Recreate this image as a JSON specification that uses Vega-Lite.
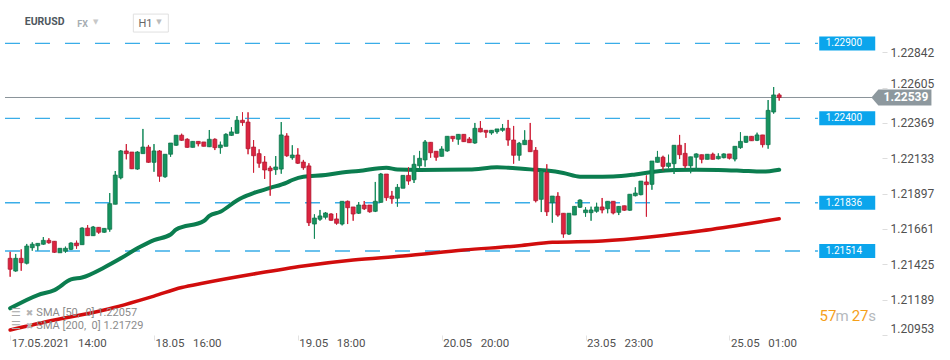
{
  "$schema": "https://vega.github.io/schema/vega-lite/v6.json",
  "width": 882,
  "height": 335,
  "autosize": {"type": "none"},
  "padding": {"left": 0, "top": 0, "right": 68, "bottom": 25},
  "background": "white",
  "config": {"font": "Roboto", "view": {"stroke": null}},
  "datasets": {
    "candles": [
      {"i":0,"o":1.21465,"h":1.21509,"l":1.21342,"c":1.21392},
      {"i":1,"o":1.21380,"h":1.21494,"l":1.21376,"c":1.21465},
      {"i":2,"o":1.21465,"h":1.21525,"l":1.21382,"c":1.21436},
      {"i":3,"o":1.21432,"h":1.21561,"l":1.21425,"c":1.21547},
      {"i":4,"o":1.21536,"h":1.21572,"l":1.21516,"c":1.21559},
      {"i":5,"o":1.21549,"h":1.21565,"l":1.21516,"c":1.21565},
      {"i":6,"o":1.21559,"h":1.21607,"l":1.21556,"c":1.21585},
      {"i":7,"o":1.21585,"h":1.21599,"l":1.21563,"c":1.21569},
      {"i":8,"o":1.21579,"h":1.21579,"l":1.21502,"c":1.21505},
      {"i":9,"o":1.21502,"h":1.21532,"l":1.21502,"c":1.21532},
      {"i":10,"o":1.21512,"h":1.21543,"l":1.21502,"c":1.21532},
      {"i":11,"o":1.21525,"h":1.21572,"l":1.21520,"c":1.21567},
      {"i":12,"o":1.21567,"h":1.21583,"l":1.21529,"c":1.21549},
      {"i":13,"o":1.21556,"h":1.21672,"l":1.21556,"c":1.21667},
      {"i":14,"o":1.21667,"h":1.21687,"l":1.21614,"c":1.21616},
      {"i":15,"o":1.21616,"h":1.21681,"l":1.21614,"c":1.21674},
      {"i":16,"o":1.21672,"h":1.21672,"l":1.21629,"c":1.21639},
      {"i":17,"o":1.21639,"h":1.21665,"l":1.21636,"c":1.21665},
      {"i":18,"o":1.21659,"h":1.21901,"l":1.21643,"c":1.21830},
      {"i":19,"o":1.21826,"h":1.22048,"l":1.21826,"c":1.22021},
      {"i":20,"o":1.22003,"h":1.22188,"l":1.21993,"c":1.22182},
      {"i":21,"o":1.22182,"h":1.22228,"l":1.22126,"c":1.22164},
      {"i":22,"o":1.22175,"h":1.22175,"l":1.22061,"c":1.22063},
      {"i":23,"o":1.22061,"h":1.22180,"l":1.22057,"c":1.22175},
      {"i":24,"o":1.22164,"h":1.22329,"l":1.22164,"c":1.22208},
      {"i":25,"o":1.22208,"h":1.22222,"l":1.22104,"c":1.22106},
      {"i":26,"o":1.22106,"h":1.22228,"l":1.22043,"c":1.22182},
      {"i":27,"o":1.22182,"h":1.22188,"l":1.21977,"c":1.22013},
      {"i":28,"o":1.22010,"h":1.22160,"l":1.22003,"c":1.22160},
      {"i":29,"o":1.22160,"h":1.22235,"l":1.22143,"c":1.22235},
      {"i":30,"o":1.22220,"h":1.22287,"l":1.22217,"c":1.22287},
      {"i":31,"o":1.22287,"h":1.22297,"l":1.22250,"c":1.22253},
      {"i":32,"o":1.22260,"h":1.22266,"l":1.22204,"c":1.22206},
      {"i":33,"o":1.22206,"h":1.22246,"l":1.22206,"c":1.22246},
      {"i":34,"o":1.22246,"h":1.22246,"l":1.22213,"c":1.22230},
      {"i":35,"o":1.22242,"h":1.22242,"l":1.22213,"c":1.22213},
      {"i":36,"o":1.22210,"h":1.22322,"l":1.22208,"c":1.22260},
      {"i":37,"o":1.22260,"h":1.22266,"l":1.22188,"c":1.22204},
      {"i":38,"o":1.22204,"h":1.22244,"l":1.22164,"c":1.22222},
      {"i":39,"o":1.22213,"h":1.22300,"l":1.22213,"c":1.22293},
      {"i":40,"o":1.22286,"h":1.22340,"l":1.22284,"c":1.22309},
      {"i":41,"o":1.22300,"h":1.22415,"l":1.22298,"c":1.22387},
      {"i":42,"o":1.22387,"h":1.22440,"l":1.22351,"c":1.22371},
      {"i":43,"o":1.22375,"h":1.22440,"l":1.22160,"c":1.22197},
      {"i":44,"o":1.22208,"h":1.22255,"l":1.22037,"c":1.22150},
      {"i":45,"o":1.22164,"h":1.22193,"l":1.22070,"c":1.22100},
      {"i":46,"o":1.22108,"h":1.22148,"l":1.21995,"c":1.22055},
      {"i":47,"o":1.22068,"h":1.22082,"l":1.21883,"c":1.22050},
      {"i":48,"o":1.22057,"h":1.22148,"l":1.22023,"c":1.22075},
      {"i":49,"o":1.22061,"h":1.22375,"l":1.22030,"c":1.22289},
      {"i":50,"o":1.22282,"h":1.22300,"l":1.22143,"c":1.22150},
      {"i":51,"o":1.22137,"h":1.22220,"l":1.22124,"c":1.22155},
      {"i":52,"o":1.22155,"h":1.22200,"l":1.22095,"c":1.22100},
      {"i":53,"o":1.22108,"h":1.22122,"l":1.22057,"c":1.22070},
      {"i":54,"o":1.22082,"h":1.22100,"l":1.21681,"c":1.21703},
      {"i":55,"o":1.21694,"h":1.21759,"l":1.21596,"c":1.21734},
      {"i":56,"o":1.21726,"h":1.21788,"l":1.21716,"c":1.21748},
      {"i":57,"o":1.21739,"h":1.21774,"l":1.21726,"c":1.21768},
      {"i":58,"o":1.21761,"h":1.21766,"l":1.21716,"c":1.21719},
      {"i":59,"o":1.21728,"h":1.21766,"l":1.21690,"c":1.21699},
      {"i":60,"o":1.21694,"h":1.21846,"l":1.21685,"c":1.21846},
      {"i":61,"o":1.21846,"h":1.21850,"l":1.21694,"c":1.21803},
      {"i":62,"o":1.21808,"h":1.21808,"l":1.21716,"c":1.21761},
      {"i":63,"o":1.21766,"h":1.21841,"l":1.21761,"c":1.21821},
      {"i":64,"o":1.21821,"h":1.21848,"l":1.21788,"c":1.21796},
      {"i":65,"o":1.21821,"h":1.21821,"l":1.21770,"c":1.21776},
      {"i":66,"o":1.21779,"h":1.21975,"l":1.21774,"c":1.21846},
      {"i":67,"o":1.21839,"h":1.22035,"l":1.21836,"c":1.22028},
      {"i":68,"o":1.22028,"h":1.22028,"l":1.21850,"c":1.21870},
      {"i":69,"o":1.21881,"h":1.21915,"l":1.21830,"c":1.21863},
      {"i":70,"o":1.21866,"h":1.21961,"l":1.21810,"c":1.21939},
      {"i":71,"o":1.21933,"h":1.22019,"l":1.21933,"c":1.22019},
      {"i":72,"o":1.22019,"h":1.22073,"l":1.21957,"c":1.21981},
      {"i":73,"o":1.21990,"h":1.22153,"l":1.21968,"c":1.22093},
      {"i":74,"o":1.22083,"h":1.22182,"l":1.22068,"c":1.22133},
      {"i":75,"o":1.22122,"h":1.22255,"l":1.22077,"c":1.22242},
      {"i":76,"o":1.22240,"h":1.22240,"l":1.22137,"c":1.22170},
      {"i":77,"o":1.22180,"h":1.22180,"l":1.22117,"c":1.22140},
      {"i":78,"o":1.22146,"h":1.22213,"l":1.22146,"c":1.22195},
      {"i":79,"o":1.22182,"h":1.22280,"l":1.22177,"c":1.22280},
      {"i":80,"o":1.22280,"h":1.22280,"l":1.22244,"c":1.22264},
      {"i":81,"o":1.22260,"h":1.22293,"l":1.22224,"c":1.22293},
      {"i":82,"o":1.22293,"h":1.22293,"l":1.22242,"c":1.22244},
      {"i":83,"o":1.22262,"h":1.22275,"l":1.22237,"c":1.22237},
      {"i":84,"o":1.22235,"h":1.22369,"l":1.22230,"c":1.22333},
      {"i":85,"o":1.22333,"h":1.22382,"l":1.22307,"c":1.22309},
      {"i":86,"o":1.22320,"h":1.22320,"l":1.22270,"c":1.22307},
      {"i":87,"o":1.22302,"h":1.22320,"l":1.22291,"c":1.22320},
      {"i":88,"o":1.22311,"h":1.22329,"l":1.22298,"c":1.22329},
      {"i":89,"o":1.22320,"h":1.22362,"l":1.22311,"c":1.22333},
      {"i":90,"o":1.22333,"h":1.22389,"l":1.22217,"c":1.22255},
      {"i":91,"o":1.22255,"h":1.22349,"l":1.22097,"c":1.22153},
      {"i":92,"o":1.22153,"h":1.22242,"l":1.22117,"c":1.22233},
      {"i":93,"o":1.22224,"h":1.22320,"l":1.22224,"c":1.22253},
      {"i":94,"o":1.22253,"h":1.22369,"l":1.22177,"c":1.22177},
      {"i":95,"o":1.22186,"h":1.22208,"l":1.21839,"c":1.21850},
      {"i":96,"o":1.21859,"h":1.22050,"l":1.21774,"c":1.22050},
      {"i":97,"o":1.22039,"h":1.22093,"l":1.21748,"c":1.21776},
      {"i":98,"o":1.21836,"h":1.21881,"l":1.21703,"c":1.21881},
      {"i":99,"o":1.21879,"h":1.21906,"l":1.21743,"c":1.21754},
      {"i":100,"o":1.21766,"h":1.21766,"l":1.21603,"c":1.21627},
      {"i":101,"o":1.21627,"h":1.21766,"l":1.21621,"c":1.21766},
      {"i":102,"o":1.21754,"h":1.21812,"l":1.21754,"c":1.21812},
      {"i":103,"o":1.21806,"h":1.21859,"l":1.21801,"c":1.21854},
      {"i":104,"o":1.21770,"h":1.21806,"l":1.21743,"c":1.21788},
      {"i":105,"o":1.21770,"h":1.21810,"l":1.21716,"c":1.21788},
      {"i":106,"o":1.21779,"h":1.21836,"l":1.21770,"c":1.21808},
      {"i":107,"o":1.21808,"h":1.21868,"l":1.21766,"c":1.21788},
      {"i":108,"o":1.21796,"h":1.21846,"l":1.21766,"c":1.21846},
      {"i":109,"o":1.21846,"h":1.21846,"l":1.21759,"c":1.21768},
      {"i":110,"o":1.21772,"h":1.21812,"l":1.21754,"c":1.21812},
      {"i":111,"o":1.21816,"h":1.21816,"l":1.21783,"c":1.21786},
      {"i":112,"o":1.21786,"h":1.21893,"l":1.21783,"c":1.21893},
      {"i":113,"o":1.21883,"h":1.21939,"l":1.21879,"c":1.21901},
      {"i":114,"o":1.21890,"h":1.21981,"l":1.21886,"c":1.21981},
      {"i":115,"o":1.21975,"h":1.22019,"l":1.21743,"c":1.21957},
      {"i":116,"o":1.21959,"h":1.22115,"l":1.21923,"c":1.22115},
      {"i":117,"o":1.22106,"h":1.22182,"l":1.22106,"c":1.22140},
      {"i":118,"o":1.22140,"h":1.22150,"l":1.22050,"c":1.22079},
      {"i":119,"o":1.22079,"h":1.22157,"l":1.22066,"c":1.22101},
      {"i":120,"o":1.22097,"h":1.22220,"l":1.22028,"c":1.22220},
      {"i":121,"o":1.22220,"h":1.22289,"l":1.22128,"c":1.22157},
      {"i":122,"o":1.22166,"h":1.22235,"l":1.22068,"c":1.22083},
      {"i":123,"o":1.22083,"h":1.22143,"l":1.22033,"c":1.22143},
      {"i":124,"o":1.22140,"h":1.22166,"l":1.22059,"c":1.22162},
      {"i":125,"o":1.22157,"h":1.22157,"l":1.22100,"c":1.22126},
      {"i":126,"o":1.22126,"h":1.22160,"l":1.22126,"c":1.22160},
      {"i":127,"o":1.22160,"h":1.22170,"l":1.22126,"c":1.22126},
      {"i":128,"o":1.22130,"h":1.22166,"l":1.22126,"c":1.22146},
      {"i":129,"o":1.22137,"h":1.22166,"l":1.22133,"c":1.22162},
      {"i":130,"o":1.22162,"h":1.22162,"l":1.22126,"c":1.22133},
      {"i":131,"o":1.22128,"h":1.22213,"l":1.22113,"c":1.22213},
      {"i":132,"o":1.22204,"h":1.22307,"l":1.22197,"c":1.22246},
      {"i":133,"o":1.22240,"h":1.22280,"l":1.22235,"c":1.22280},
      {"i":134,"o":1.22280,"h":1.22280,"l":1.22250,"c":1.22250},
      {"i":135,"o":1.22253,"h":1.22304,"l":1.22248,"c":1.22289},
      {"i":136,"o":1.22289,"h":1.22289,"l":1.22206,"c":1.22224},
      {"i":137,"o":1.22224,"h":1.22522,"l":1.22197,"c":1.22453},
      {"i":138,"o":1.22442,"h":1.22609,"l":1.22431,"c":1.22556},
      {"i":139,"o":1.22556,"h":1.22567,"l":1.22518,"c":1.22539}
    ],
    "sma50": [
      {"i":0,"v":1.21131},{"i":5,"v":1.21220},{"i":8,"v":1.21253},{"i":11,"v":1.21324},
      {"i":13,"v":1.21337},{"i":17,"v":1.21404},{"i":20,"v":1.21465},{"i":23,"v":1.21532},
      {"i":26,"v":1.21587},{"i":29,"v":1.21624},{"i":30,"v":1.21657},{"i":35,"v":1.21714},
      {"i":36,"v":1.21748},{"i":38,"v":1.21776},{"i":41,"v":1.21851},{"i":42,"v":1.21871},
      {"i":44,"v":1.21901},{"i":47,"v":1.21935},{"i":50,"v":1.21971},{"i":51,"v":1.21988},
      {"i":53,"v":1.22010},{"i":57,"v":1.22021},{"i":60,"v":1.22038},{"i":63,"v":1.22048},
      {"i":68,"v":1.22070},{"i":70,"v":1.22058},{"i":74,"v":1.22055},{"i":83,"v":1.22058},
      {"i":88,"v":1.22073},{"i":90,"v":1.22070},{"i":92,"v":1.22065},{"i":94,"v":1.22059},
      {"i":97,"v":1.22051},{"i":100,"v":1.22035},{"i":103,"v":1.22010},{"i":106,"v":1.22010},
      {"i":109,"v":1.22011},{"i":113,"v":1.22025},{"i":116,"v":1.22041},{"i":120,"v":1.22055},
      {"i":124,"v":1.22057},{"i":128,"v":1.22055},{"i":132,"v":1.22050},{"i":136,"v":1.22044},
      {"i":139,"v":1.22057}
    ],
    "sma200": [
      {"i":0,"v":1.20986},{"i":8,"v":1.21053},{"i":17,"v":1.21120},{"i":26,"v":1.21213},
      {"i":31,"v":1.21270},{"i":35,"v":1.21300},{"i":44,"v":1.21360},{"i":53,"v":1.21414},
      {"i":62,"v":1.21454},{"i":71,"v":1.21480},{"i":82,"v":1.21520},{"i":92,"v":1.21549},
      {"i":98,"v":1.21572},{"i":107,"v":1.21581},{"i":116,"v":1.21609},{"i":125,"v":1.21649},
      {"i":134,"v":1.21699},{"i":139,"v":1.21729}
    ],
    "levels": [{"v":1.22900},{"v":1.22400},{"v":1.21836},{"v":1.21514}],
    "price": [{"v":1.22539}]
  },
  "layer": [
    {
      "data": {"name": "candles"},
      "mark": {"type": "rule", "strokeWidth": 1},
      "encoding": {
        "x": {
          "field": "i", "type": "quantitative",
          "scale": {"domain": [-0.929, 156.68], "nice": false, "zero": false},
          "axis": {
            "title": null, "values": [0, 26, 52, 78, 104, 130],
            "labelExpr": "datum.value===0?'17.05.2021\u00a0\u00a0\u00a014:00':datum.value===26?'18.05\u00a0\u00a0\u00a016:00':datum.value===52?'19.05\u00a0\u00a0\u00a018:00':datum.value===78?'20.05\u00a0\u00a0\u00a020:00':datum.value===104?'23.05\u00a0\u00a0\u00a023:00':'25.05\u00a0\u00a0\u00a001:00'",
            "grid": false, "domain": false, "ticks": true, "tickColor": "#e3e3e3", "tickSize": 5,
            "labelAlign": "left", "labelPadding": -3, "labelOffset": 1, "labelFontSize": 11.5,
            "labelColor": "#505050", "labelFlush": false, "labelOverlap": false, "labelBound": false,
            "zindex": 1
          }
        },
        "y": {
          "field": "l", "type": "quantitative",
          "scale": {"domain": [1.20953, 1.2319], "nice": false, "zero": false},
          "axis": {
            "orient": "right", "title": null,
            "values": [1.20953, 1.21189, 1.21425, 1.21661, 1.21897, 1.22133, 1.22369, 1.22605, 1.22842],
            "format": ".5f", "grid": false, "domain": false, "tickColor": "#dddddd", "tickSize": 5,
            "labelPadding": 3, "labelFontSize": 12, "labelColor": "#505050", "labelFlush": true,
            "labelOffset": {"condition": {"test": "abs(datum.value - 1.22605) < 0.00001", "value": -4.5}, "value": 0},
            "labelOverlap": false, "zindex": 0
          }
        },
        "y2": {"field": "h"},
        "color": {"condition": {"test": "datum.c >= datum.o", "value": "#14895a"}, "value": "#cf1f36"}
      }
    },
    {
      "data": {"name": "levels"},
      "mark": {"type": "rule", "strokeDash": [15, 15], "strokeWidth": 1.3, "color": "#3aade8"},
      "encoding": {
        "y": {"field": "v", "type": "quantitative", "title": null},
        "x": {"datum": -0.93, "type": "quantitative"},
        "x2": {"datum": 146}
      }
    },
    {
      "data": {"name": "price"},
      "mark": {"type": "rule", "strokeWidth": 1, "color": "#8a9399"},
      "encoding": {
        "y": {"field": "v", "type": "quantitative", "title": null},
        "x": {"datum": -0.93, "type": "quantitative"},
        "x2": {"datum": 155.9}
      }
    },
    {
      "data": {"name": "sma200"},
      "mark": {"type": "line", "strokeWidth": 3.5, "color": "#d10d0d", "interpolate": "monotone", "strokeCap": "round"},
      "encoding": {
        "x": {"field": "i", "type": "quantitative", "title": null},
        "y": {"field": "v", "type": "quantitative", "title": null, "scale": {"zero": false}}
      }
    },
    {
      "data": {"name": "sma50"},
      "mark": {"type": "line", "strokeWidth": 4, "color": "#0b7d4f", "interpolate": "monotone", "strokeCap": "round"},
      "encoding": {
        "x": {"field": "i", "type": "quantitative", "title": null},
        "y": {"field": "v", "type": "quantitative", "title": null, "scale": {"zero": false}}
      }
    },
    {
      "data": {"name": "candles"},
      "mark": {"type": "rule", "strokeWidth": 1},
      "encoding": {
        "x": {"field": "i", "type": "quantitative", "title": null},
        "y": {"field": "l", "type": "quantitative", "title": null},
        "y2": {"field": "h"},
        "color": {"condition": {"test": "datum.c >= datum.o", "value": "#14895a"}, "value": "#cf1f36"}
      }
    },
    {
      "data": {"name": "candles"},
      "mark": {"type": "bar", "width": 4, "strokeWidth": 0.7},
      "encoding": {
        "x": {"field": "i", "type": "quantitative", "title": null},
        "y": {"field": "o", "type": "quantitative", "title": null, "scale": {"zero": false}},
        "y2": {"field": "c"},
        "fill": {"condition": {"test": "datum.c >= datum.o", "value": "#16935f"}, "value": "#dc2440"},
        "stroke": {"condition": {"test": "datum.c >= datum.o", "value": "#0c6e46"}, "value": "#a9162c"}
      }
    },
    {
      "data": {"name": "levels"},
      "mark": {"type": "point", "shape": "M-1,-0.25L1,-0.25L1,0.25L-1,0.25Z", "size": 3136, "filled": true, "fill": "#0ba5ec", "opacity": 1, "strokeWidth": 0},
      "encoding": {
        "y": {"field": "v", "type": "quantitative", "title": null},
        "x": {"datum": 151.3, "type": "quantitative"}
      }
    },
    {
      "data": {"name": "levels"},
      "mark": {"type": "text", "align": "left", "baseline": "middle", "fontSize": 10, "color": "white"},
      "encoding": {
        "y": {"field": "v", "type": "quantitative", "title": null},
        "x": {"datum": 147.4, "type": "quantitative"},
        "text": {"field": "v", "type": "quantitative", "format": ".5f"}
      }
    },
    {
      "data": {"name": "price"},
      "mark": {"type": "point", "shape": "M-1,0L-0.77,-0.265L1,-0.265L1,0.265L-0.77,0.265Z", "size": 3600, "filled": true, "fill": "#8d989e", "opacity": 1, "strokeWidth": 0},
      "encoding": {
        "y": {"field": "v", "type": "quantitative", "title": null},
        "x": {"datum": 161.1, "type": "quantitative"}
      }
    },
    {
      "data": {"name": "price"},
      "mark": {"type": "text", "align": "center", "baseline": "middle", "fontSize": 12, "fontWeight": "bold", "color": "white"},
      "encoding": {
        "y": {"field": "v", "type": "quantitative", "title": null},
        "x": {"datum": 161.92, "type": "quantitative"},
        "text": {"field": "v", "type": "quantitative", "format": ".5f"}
      }
    },
    {
      "data": {"values": [{}]},
      "mark": {"type": "text", "text": "57", "align": "left", "baseline": "alphabetic", "fontSize": 15, "color": "#f5a01a"},
      "encoding": {"x": {"datum": 146.3, "type": "quantitative"}, "y": {"datum": 1.21048, "type": "quantitative"}}
    },
    {
      "data": {"values": [{}]},
      "mark": {"type": "text", "text": "m", "align": "left", "baseline": "alphabetic", "fontSize": 15, "color": "#b5b9bc"},
      "encoding": {"x": {"datum": 149.2, "type": "quantitative"}, "y": {"datum": 1.21048, "type": "quantitative"}}
    },
    {
      "data": {"values": [{}]},
      "mark": {"type": "text", "text": "27", "align": "left", "baseline": "alphabetic", "fontSize": 15, "color": "#f5a01a"},
      "encoding": {"x": {"datum": 152.1, "type": "quantitative"}, "y": {"datum": 1.21048, "type": "quantitative"}}
    },
    {
      "data": {"values": [{}]},
      "mark": {"type": "text", "text": "s", "align": "left", "baseline": "alphabetic", "fontSize": 15, "color": "#b5b9bc"},
      "encoding": {"x": {"datum": 155.1, "type": "quantitative"}, "y": {"datum": 1.21048, "type": "quantitative"}}
    },
    {
      "data": {"values": [{}]},
      "mark": {"type": "text", "text": "SMA [50,\u00a0 0] 1.22057", "align": "left", "baseline": "middle", "fontSize": 11, "color": "#8c8c8c"},
      "encoding": {"x": {"datum": 4.74, "type": "quantitative"}, "y": {"datum": 1.211, "type": "quantitative"}}
    },
    {
      "data": {"values": [{}]},
      "mark": {"type": "text", "text": "SMA [200,\u00a0 0] 1.21729", "align": "left", "baseline": "middle", "fontSize": 11, "color": "#8c8c8c"},
      "encoding": {"x": {"datum": 4.74, "type": "quantitative"}, "y": {"datum": 1.2101, "type": "quantitative"}}
    },
    {
      "data": {"values": [{}]},
      "mark": {"type": "text", "text": "☰", "align": "left", "baseline": "middle", "fontSize": 11, "font": "DejaVu Sans", "color": "#a9a9a9"},
      "encoding": {"x": {"datum": 0.14, "type": "quantitative"}, "y": {"datum": 1.211, "type": "quantitative"}}
    },
    {
      "data": {"values": [{}]},
      "mark": {"type": "text", "text": "☰", "align": "left", "baseline": "middle", "fontSize": 11, "font": "DejaVu Sans", "color": "#a9a9a9"},
      "encoding": {"x": {"datum": 0.14, "type": "quantitative"}, "y": {"datum": 1.2101, "type": "quantitative"}}
    },
    {
      "data": {"values": [{}]},
      "mark": {"type": "text", "text": "✖", "align": "left", "baseline": "middle", "fontSize": 9, "font": "DejaVu Sans", "color": "#b5b5b5"},
      "encoding": {"x": {"datum": 2.82, "type": "quantitative"}, "y": {"datum": 1.211, "type": "quantitative"}}
    },
    {
      "data": {"values": [{}]},
      "mark": {"type": "text", "text": "✖", "align": "left", "baseline": "middle", "fontSize": 9, "font": "DejaVu Sans", "color": "#b5b5b5"},
      "encoding": {"x": {"datum": 2.82, "type": "quantitative"}, "y": {"datum": 1.2101, "type": "quantitative"}}
    },
    {
      "data": {"values": [{}]},
      "mark": {"type": "text", "text": "EURUSD", "align": "left", "baseline": "middle", "fontSize": 10.5, "fontWeight": "bold", "color": "#4f585e"},
      "encoding": {"x": {"datum": 2.645, "type": "quantitative"}, "y": {"datum": 1.2304, "type": "quantitative"}}
    },
    {
      "data": {"values": [{}]},
      "mark": {"type": "text", "text": "FX", "align": "left", "baseline": "middle", "fontSize": 9, "fontWeight": "bold", "color": "#a6adb2"},
      "encoding": {"x": {"datum": 12.12, "type": "quantitative"}, "y": {"datum": 1.2303, "type": "quantitative"}}
    },
    {
      "data": {"values": [{}]},
      "mark": {"type": "text", "text": "▼", "align": "left", "baseline": "middle", "fontSize": 7, "font": "DejaVu Sans", "color": "#c8c8c8"},
      "encoding": {"x": {"datum": 14.97, "type": "quantitative"}, "y": {"datum": 1.23046, "type": "quantitative"}}
    },
    {
      "data": {"values": [{}]},
      "mark": {"type": "point", "shape": "M-1,-0.514L1,-0.514L1,0.514L-1,0.514Z", "size": 1225, "filled": false, "stroke": "#e0e0e0", "strokeWidth": 1, "opacity": 1},
      "encoding": {"x": {"datum": 25.43, "type": "quantitative"}, "y": {"datum": 1.23036, "type": "quantitative"}}
    },
    {
      "data": {"values": [{}]},
      "mark": {"type": "text", "text": "H1", "align": "left", "baseline": "middle", "fontSize": 11, "color": "#666666"},
      "encoding": {"x": {"datum": 23.2, "type": "quantitative"}, "y": {"datum": 1.23033, "type": "quantitative"}}
    },
    {
      "data": {"values": [{}]},
      "mark": {"type": "text", "text": "▼", "align": "left", "baseline": "middle", "fontSize": 7, "font": "DejaVu Sans", "color": "#bbbbbb"},
      "encoding": {"x": {"datum": 26.41, "type": "quantitative"}, "y": {"datum": 1.23046, "type": "quantitative"}}
    }
  ]
}
